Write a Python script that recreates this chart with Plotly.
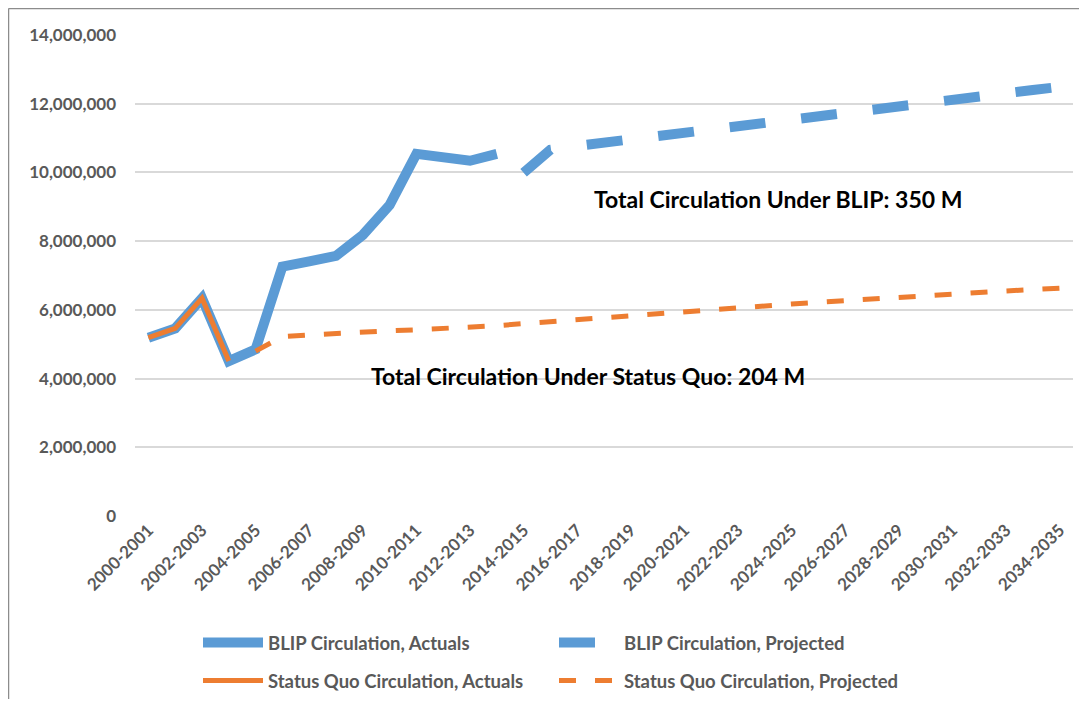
import plotly.graph_objects as go

years = [f"{y}-{y+1}" for y in range(2000, 2035)]

blip_actual = [5.19e6, 5.46e6, 6.34e6, 4.51e6, 4.85e6, 7.26e6, 7.41e6, 7.57e6, 8.18e6,
               9.05e6, 10.54e6, 10.44e6, 10.34e6, 10.54e6]
blip_projected = [9.99e6, 10.66e6, 10.77e6, 10.87e6, 10.96e6, 11.06e6, 11.15e6, 11.25e6,
                  11.34e6, 11.44e6, 11.53e6, 11.63e6, 11.72e6, 11.82e6, 11.92e6, 12.01e6,
                  12.11e6, 12.21e6, 12.30e6, 12.40e6, 12.49e6]
sq_actual = [5.19e6, 5.46e6, 6.34e6, 4.51e6]
sq_projected = [4.80e6, 5.22e6, 5.27e6, 5.32e6, 5.36e6, 5.39e6, 5.42e6, 5.45e6, 5.49e6,
                5.54e6, 5.60e6, 5.66e6, 5.72e6, 5.77e6, 5.83e6, 5.89e6, 5.95e6, 6.01e6,
                6.06e6, 6.11e6, 6.17e6, 6.22e6, 6.27e6, 6.33e6, 6.38e6, 6.42e6, 6.47e6,
                6.51e6, 6.55e6, 6.59e6, 6.63e6]

y_ticks = [0, 2e6, 4e6, 6e6, 8e6, 10e6, 12e6, 14e6]
y_tick_text = ["0", "2,000,000", "4,000,000", "6,000,000", "8,000,000",
               "10,000,000", "12,000,000", "14,000,000"]

n = len(years)
def pad(vals, start):
    out = [None] * n
    for i, v in enumerate(vals):
        out[start + i] = v
    return out

BLUE = "#5B9BD5"
ORANGE = "#ED7D31"
GRAY = "#595959"
FONT = "Lato"

# page has an 8px body margin; figure is placed at (8, 8)
OFF = 8
W, H = 1087 - 2 * OFF, 707 - 2 * OFF
L, T = 135 - OFF, 35 - OFF
R = W - (1073 - OFF)
B = H - (516 - OFF)
PW = W - L - R
PH = H - T - B

def px(xp):  # page x -> paper x
    return (xp - OFF - L) / PW

def py(yp):  # page y -> paper y
    return (H - B - (yp - OFF)) / PH

fig = go.Figure()
fig.add_trace(go.Scatter(x=years, y=pad(blip_actual, 0), mode="lines",
                         name="<b>BLIP Circulation, Actuals</b>",
                         line=dict(color=BLUE, width=10), legend="legend"))
fig.add_trace(go.Scatter(x=years, y=pad(blip_projected, 14), mode="lines",
                         name="<b>BLIP Circulation, Projected</b>",
                         line=dict(color=BLUE, width=10, dash="36px,36px"), legend="legend"))
fig.add_trace(go.Scatter(x=years, y=pad(sq_actual, 0), mode="lines",
                         name="<b>Status Quo Circulation, Actuals</b>",
                         line=dict(color=ORANGE, width=5), legend="legend2"))
fig.add_trace(go.Scatter(x=years, y=pad(sq_projected, 4), mode="lines",
                         name="<b>Status Quo Circulation, Projected</b>",
                         line=dict(color=ORANGE, width=5, dash="17px,19px"), legend="legend2"))

fig.add_annotation(x=px(778), y=py(199), xref="paper", yref="paper",
                   text="<b>Total Circulation Under BLIP: 350 M</b>", showarrow=False,
                   font=dict(family=FONT, size=23, color="black"), xanchor="center", yanchor="middle")
fig.add_annotation(x=px(588), y=py(376), xref="paper", yref="paper",
                   text="<b>Total Circulation Under Status Quo: 204 M</b>", showarrow=False,
                   font=dict(family=FONT, size=23, color="black"), xanchor="center", yanchor="middle")

# outer chart border (top and left edges only visible)
border = dict(color="#8c8c8c", width=1.5)
fig.add_shape(type="line", xref="paper", yref="paper",
              x0=px(8.5), x1=px(1110), y0=py(8.5), y1=py(8.5), line=border, layer="below")
fig.add_shape(type="line", xref="paper", yref="paper",
              x0=px(8.5), x1=px(8.5), y0=py(8.5), y1=py(720), line=border, layer="below")

legend_common = dict(orientation="h", xanchor="left", yanchor="middle",
                     font=dict(family=FONT, size=18.5, color=GRAY), itemwidth=60,
                     entrywidth=281, bgcolor="rgba(0,0,0,0)", itemclick=False)
fig.update_layout(
    width=W, height=H,
    margin=dict(l=L, r=R, t=T, b=B, autoexpand=False),
    paper_bgcolor="white", plot_bgcolor="white",
    font=dict(family=FONT, color=GRAY),
    legend=dict(x=px(198), y=py(643), **legend_common),
    legend2=dict(x=px(198), y=py(681), **legend_common),
    xaxis=dict(type="category", categoryorder="array", categoryarray=years,
               range=[-0.5, n - 0.5], tickmode="array", tickvals=years[::2],
               ticktext=[f"<b>{t}</b>" for t in years[::2]], tickangle=-45,
               tickfont=dict(family=FONT, size=17, color=GRAY),
               showgrid=False, showline=False, ticks="", zeroline=False, automargin=False),
    yaxis=dict(range=[0, 14e6], tickmode="array", tickvals=y_ticks,
               ticktext=[f"<b>{t}</b>" for t in y_tick_text],
               tickfont=dict(family=FONT, size=17, color=GRAY),
               showgrid=True, gridcolor="#d9d9d9", gridwidth=1.5,
               zeroline=False, showline=False, ticks="", ticklabelstandoff=18, automargin=False),
)

fig.write_html("out.html")
